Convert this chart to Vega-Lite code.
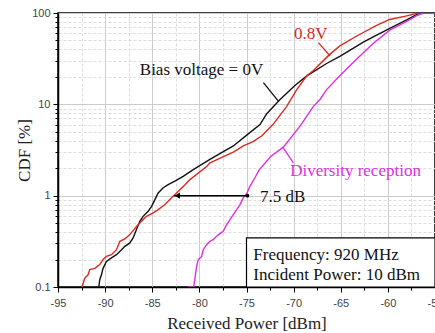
{
  "$schema": "https://vega.github.io/schema/vega-lite/v6.json",
  "width": 377,
  "height": 274,
  "autosize": {"type": "none"},
  "padding": {"left": 58, "top": 13, "right": 0, "bottom": 46},
  "background": "white",
  "config": {
    "view": {"stroke": "black", "strokeWidth": 1.5},
    "axis": {
      "domainColor": "black",
      "domainWidth": 1.5,
      "tickColor": "black",
      "labelFont": "Liberation Sans",
      "labelFontSize": 11,
      "labelColor": "#444444",
      "labelOverlap": false,
      "labelFlush": false,
      "titleFont": "Liberation Serif",
      "titleFontSize": 17,
      "titleFontWeight": "normal",
      "titleColor": "#222222"
    }
  },
  "datasets": {
    "curves": [
      {"s": "0V", "x": -90.67, "y": 0.1},
      {"s": "0V", "x": -90.57, "y": 0.12},
      {"s": "0V", "x": -90.39, "y": 0.136},
      {"s": "0V", "x": -90.22, "y": 0.16},
      {"s": "0V", "x": -89.86, "y": 0.19},
      {"s": "0V", "x": -89.33, "y": 0.208},
      {"s": "0V", "x": -88.79, "y": 0.226},
      {"s": "0V", "x": -88.26, "y": 0.256},
      {"s": "0V", "x": -87.91, "y": 0.279},
      {"s": "0V", "x": -87.38, "y": 0.304},
      {"s": "0V", "x": -87.03, "y": 0.344},
      {"s": "0V", "x": -86.67, "y": 0.425},
      {"s": "0V", "x": -86.32, "y": 0.524},
      {"s": "0V", "x": -85.97, "y": 0.594},
      {"s": "0V", "x": -85.44, "y": 0.674},
      {"s": "0V", "x": -85.07, "y": 0.765},
      {"s": "0V", "x": -84.72, "y": 0.906},
      {"s": "0V", "x": -84.37, "y": 1.07},
      {"s": "0V", "x": -83.84, "y": 1.22},
      {"s": "0V", "x": -83.31, "y": 1.32},
      {"s": "0V", "x": -82.6, "y": 1.44},
      {"s": "0V", "x": -81.72, "y": 1.63},
      {"s": "0V", "x": -80.65, "y": 1.93},
      {"s": "0V", "x": -78.88, "y": 2.5},
      {"s": "0V", "x": -76.4, "y": 3.5},
      {"s": "0V", "x": -74.98, "y": 4.6},
      {"s": "0V", "x": -73.57, "y": 6.0},
      {"s": "0V", "x": -72.85, "y": 7.9},
      {"s": "0V", "x": -71.44, "y": 11.3},
      {"s": "0V", "x": -70.03, "y": 15.5},
      {"s": "0V", "x": -69.67, "y": 16.7},
      {"s": "0V", "x": -68.6, "y": 20.5},
      {"s": "0V", "x": -66.5, "y": 28},
      {"s": "0V", "x": -65.1, "y": 33.5},
      {"s": "0V", "x": -62.6, "y": 48},
      {"s": "0V", "x": -61.5, "y": 55},
      {"s": "0V", "x": -59.8, "y": 68},
      {"s": "0V", "x": -58.0, "y": 84},
      {"s": "0V", "x": -57.2, "y": 93},
      {"s": "0V", "x": -56.6, "y": 100},
      {"s": "0V", "x": -55, "y": 100},
      {"s": "0.8V", "x": -92.45, "y": 0.1},
      {"s": "0.8V", "x": -92.16, "y": 0.125},
      {"s": "0.8V", "x": -91.81, "y": 0.136},
      {"s": "0.8V", "x": -91.63, "y": 0.155},
      {"s": "0.8V", "x": -91.1, "y": 0.16},
      {"s": "0.8V", "x": -90.57, "y": 0.176},
      {"s": "0.8V", "x": -90.22, "y": 0.2},
      {"s": "0.8V", "x": -89.86, "y": 0.216},
      {"s": "0.8V", "x": -89.33, "y": 0.226},
      {"s": "0.8V", "x": -88.79, "y": 0.256},
      {"s": "0.8V", "x": -88.44, "y": 0.316},
      {"s": "0.8V", "x": -87.91, "y": 0.336},
      {"s": "0.8V", "x": -87.38, "y": 0.375},
      {"s": "0.8V", "x": -86.67, "y": 0.46},
      {"s": "0.8V", "x": -86.14, "y": 0.524},
      {"s": "0.8V", "x": -85.61, "y": 0.594},
      {"s": "0.8V", "x": -84.9, "y": 0.647},
      {"s": "0.8V", "x": -84.37, "y": 0.704},
      {"s": "0.8V", "x": -83.66, "y": 0.8},
      {"s": "0.8V", "x": -82.95, "y": 0.946},
      {"s": "0.8V", "x": -82.42, "y": 1.07},
      {"s": "0.8V", "x": -81.53, "y": 1.32},
      {"s": "0.8V", "x": -81.0, "y": 1.5},
      {"s": "0.8V", "x": -79.2, "y": 2.1},
      {"s": "0.8V", "x": -78.88, "y": 2.29},
      {"s": "0.8V", "x": -76.4, "y": 3.0},
      {"s": "0.8V", "x": -75.34, "y": 3.5},
      {"s": "0.8V", "x": -74.3, "y": 3.9},
      {"s": "0.8V", "x": -73.4, "y": 4.5},
      {"s": "0.8V", "x": -72.2, "y": 6.0},
      {"s": "0.8V", "x": -70.73, "y": 9.5},
      {"s": "0.8V", "x": -69.67, "y": 14.5},
      {"s": "0.8V", "x": -68.6, "y": 20.5},
      {"s": "0.8V", "x": -67.9, "y": 23.5},
      {"s": "0.8V", "x": -66.2, "y": 35},
      {"s": "0.8V", "x": -65.1, "y": 43.6},
      {"s": "0.8V", "x": -63.3, "y": 56},
      {"s": "0.8V", "x": -61.2, "y": 73},
      {"s": "0.8V", "x": -59.8, "y": 85},
      {"s": "0.8V", "x": -58.0, "y": 93},
      {"s": "0.8V", "x": -56.9, "y": 99},
      {"s": "0.8V", "x": -56.3, "y": 100},
      {"s": "0.8V", "x": -55, "y": 100},
      {"s": "Div", "x": -81.18, "y": 0.1},
      {"s": "Div", "x": -80.6, "y": 0.101},
      {"s": "Div", "x": -80.47, "y": 0.125},
      {"s": "Div", "x": -80.29, "y": 0.168},
      {"s": "Div", "x": -80.12, "y": 0.199},
      {"s": "Div", "x": -79.76, "y": 0.216},
      {"s": "Div", "x": -79.59, "y": 0.256},
      {"s": "Div", "x": -79.23, "y": 0.291},
      {"s": "Div", "x": -78.88, "y": 0.316},
      {"s": "Div", "x": -78.53, "y": 0.33},
      {"s": "Div", "x": -78.17, "y": 0.359},
      {"s": "Div", "x": -77.82, "y": 0.384},
      {"s": "Div", "x": -77.47, "y": 0.407},
      {"s": "Div", "x": -77.1, "y": 0.482},
      {"s": "Div", "x": -76.75, "y": 0.547},
      {"s": "Div", "x": -76.4, "y": 0.621},
      {"s": "Div", "x": -76.04, "y": 0.704},
      {"s": "Div", "x": -75.69, "y": 0.799},
      {"s": "Div", "x": -75.34, "y": 0.946},
      {"s": "Div", "x": -74.98, "y": 1.05},
      {"s": "Div", "x": -74.63, "y": 1.27},
      {"s": "Div", "x": -74.1, "y": 1.57},
      {"s": "Div", "x": -73.64, "y": 1.93},
      {"s": "Div", "x": -72.4, "y": 2.7},
      {"s": "Div", "x": -71.09, "y": 3.4},
      {"s": "Div", "x": -69.3, "y": 5.8},
      {"s": "Div", "x": -67.9, "y": 9.5},
      {"s": "Div", "x": -67.2, "y": 11.3},
      {"s": "Div", "x": -66.5, "y": 14.5},
      {"s": "Div", "x": -65.1, "y": 20.5},
      {"s": "Div", "x": -63.3, "y": 31.3},
      {"s": "Div", "x": -61.5, "y": 47},
      {"s": "Div", "x": -59.8, "y": 65},
      {"s": "Div", "x": -58.0, "y": 81},
      {"s": "Div", "x": -57.0, "y": 93},
      {"s": "Div", "x": -56.2, "y": 100},
      {"s": "Div", "x": -55, "y": 100}
    ],
    "notes": [
      {"s": "0V", "x": -86.32, "y": 20.7, "t": "Bias voltage = 0V"},
      {"s": "0.8V", "x": -69.95, "y": 51.5, "t": "0.8V"},
      {"s": "Div", "x": -70.37, "y": 1.63, "t": "Diversity reception"},
      {"s": "0V", "x": -73.57, "y": 0.862, "t": "7.5 dB"},
      {"s": "0V", "x": -74.28, "y": 0.199, "t": "Frequency: 920 MHz"},
      {"s": "0V", "x": -74.28, "y": 0.1203, "t": "Incident Power: 10 dBm"}
    ],
    "leaders": [
      {"s": "0V", "x": -73.21, "y": 17.25, "x2": -71.62, "y2": 10.84},
      {"s": "0.8V", "x": -67.37, "y": 47.3, "x2": -66.13, "y2": 33.8},
      {"s": "Div", "x": -71.09, "y": 3.34, "x2": -70.03, "y2": 2.29}
    ],
    "box": [{"x": -75, "x2": -55, "y": 0.345, "y2": 0.1}],
    "arrow": [{"x": -82.7, "x2": -74.9, "y": 1}],
    "head": [{"x": -82.35, "y": 1}],
    "dot": [{"x": -74.9, "y": 1}]
  },
  "encoding": {
    "x": {
      "field": "x",
      "type": "quantitative",
      "scale": {"domain": [-95, -55], "nice": false, "zero": false},
      "axis": {
        "title": "Received Power [dBm]",
        "values": [-95, -92.5, -90, -87.5, -85, -82.5, -80, -77.5, -75, -72.5, -70, -67.5, -65, -62.5, -60, -57.5, -55],
        "labelExpr": "datum.value % 5 == 0 ? '' + datum.value : ''",
        "grid": true,
        "gridColor": {"condition": {"test": "datum.value % 5 == 0", "value": "#cccccc"}, "value": "#dddddd"},
        "gridDash": {"condition": {"test": "datum.value % 5 == 0", "value": []}, "value": [3, 2]},
        "tickSize": {"condition": {"test": "datum.value % 5 == 0", "value": 5}, "value": 3},
        "labelPadding": 5,
        "titlePadding": 7
      }
    },
    "y": {
      "field": "y",
      "type": "quantitative",
      "scale": {"type": "log", "domain": [0.1, 100], "nice": false},
      "axis": {
        "title": "CDF [%]",
        "values": [0.1, 0.2, 0.3, 0.4, 0.5, 0.6, 0.7, 0.8, 0.9, 1, 2, 3, 4, 5, 6, 7, 8, 9, 10, 20, 30, 40, 50, 60, 70, 80, 90, 100],
        "labelExpr": "(datum.value == 0.1 || datum.value == 1 || datum.value == 10 || datum.value == 100) ? '' + datum.value : ''",
        "grid": true,
        "gridColor": {"condition": {"test": "datum.value == 0.1 || datum.value == 1 || datum.value == 10 || datum.value == 100", "value": "#cccccc"}, "value": "#dddddd"},
        "gridDash": {"condition": {"test": "datum.value == 0.1 || datum.value == 1 || datum.value == 10 || datum.value == 100", "value": []}, "value": [3, 2]},
        "tickSize": {"condition": {"test": "datum.value == 0.1 || datum.value == 1 || datum.value == 10 || datum.value == 100", "value": 5}, "value": 3},
        "labelPadding": 3,
        "titlePadding": -2
      }
    }
  },
  "layer": [
    {
      "data": {"name": "box"},
      "mark": {"type": "rect", "fill": "white", "stroke": "black", "strokeWidth": 1.2},
      "encoding": {"x2": {"field": "x2"}, "y2": {"field": "y2"}}
    },
    {
      "data": {"name": "curves"},
      "mark": {"type": "line", "strokeWidth": 1.4, "clip": true},
      "encoding": {
        "color": {"field": "s", "type": "nominal", "scale": {"domain": ["0V", "0.8V", "Div"], "range": ["#111111", "#d92b20", "#dd30dd"]}, "legend": null}
      }
    },
    {
      "data": {"name": "leaders"},
      "mark": {"type": "rule", "strokeWidth": 1.3},
      "encoding": {
        "x2": {"field": "x2"},
        "y2": {"field": "y2"},
        "color": {"field": "s", "type": "nominal", "legend": null}
      }
    },
    {
      "data": {"name": "arrow"},
      "mark": {"type": "rule", "strokeWidth": 1.5, "color": "black"},
      "encoding": {"x2": {"field": "x2"}}
    },
    {
      "data": {"name": "head"},
      "mark": {"type": "point", "shape": "triangle-left", "filled": true, "size": 40, "color": "black", "opacity": 1},
      "encoding": {}
    },
    {
      "data": {"name": "dot"},
      "mark": {"type": "point", "shape": "circle", "filled": true, "size": 14, "color": "black", "opacity": 1},
      "encoding": {}
    },
    {
      "data": {"name": "notes"},
      "mark": {"type": "text", "font": "Liberation Serif", "fontSize": 17, "align": "left", "baseline": "alphabetic"},
      "encoding": {
        "text": {"field": "t"},
        "color": {"field": "s", "type": "nominal", "legend": null}
      }
    }
  ]
}
